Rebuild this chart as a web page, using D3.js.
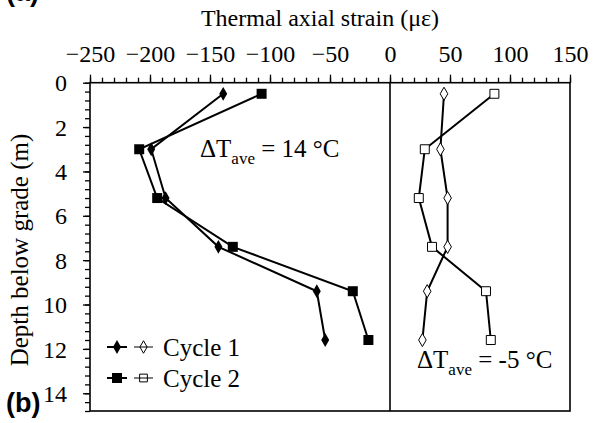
<!DOCTYPE html>
<html>
<head>
<meta charset="utf-8">
<script src="https://cdn.jsdelivr.net/npm/d3@7"></script>
<style>
  body { margin: 0; background: #fff; }
  svg { display: block; }
</style>
</head>
<body>
<div class="chart"></div>
<script>
// depths of the gauges (m)
var depth = [0.5, 3.0, 5.2, 7.4, 9.4, 11.6]
// heating side (left panel)
var heatCycle1 = [-139, -199, -187, -143, -61, -54]
var heatCycle2 = [-107, -209, -194, -131, -31, -18]
// cooling side (right panel)
var coolCycle1 = [45, 42, 48, 48, 31, 27]
var coolCycle2 = [87, 29, 24, 35, 80, 84]

var xTicks = [-250, -200, -150, -100, -50, 0, 50, 100, 150]
var yTicks = [0, 2, 4, 6, 8, 10, 12, 14]

var width = 593, height = 423
var svg = d3.select(".chart").append("svg")
    .attr("width", width)
    .attr("height", height)

var serif = "Liberation Serif"

var xScale = d3.scaleLinear().domain([-250, 150]).range([90, 570])
var yScale = d3.scaleLinear().domain([0, 14.8]).range([82.7, 411])

// minor ticks
svg.append("g")
    .attr("transform", "translate(0," + yScale(0) + ")")
    .call(d3.axisTop(xScale).tickValues(d3.range(-250, 151, 10)).tickSize(5).tickSizeOuter(0).tickFormat(""))
    .call(g => g.select(".domain").remove())
svg.append("g")
    .attr("transform", "translate(" + xScale(-250) + ",0)")
    .call(d3.axisLeft(yScale).tickValues(d3.range(0, 14.81, 0.4)).tickSize(5).tickSizeOuter(0).tickFormat(""))
    .call(g => g.select(".domain").remove())

// major ticks + labels
var xAxis = svg.append("g")
    .attr("transform", "translate(0," + yScale(0) + ")")
    .call(d3.axisTop(xScale).tickValues(xTicks).tickSize(8).tickPadding(13).tickSizeOuter(0))
var yAxis = svg.append("g")
    .attr("transform", "translate(" + xScale(-250) + ",0)")
    .call(d3.axisLeft(yScale).tickValues(yTicks).tickSize(7).tickPadding(16).tickSizeOuter(0))

svg.selectAll(".tick line").attr("stroke", "#000").attr("stroke-width", 1.3)
svg.selectAll(".domain").remove()
svg.selectAll(".tick text")
    .attr("font-family", serif)
    .attr("font-size", 24)
    .attr("fill", "#000")
yAxis.selectAll(".tick text").attr("dy", "0.34em")

// frame and zero line
svg.append("rect")
    .attr("x", xScale(-250)).attr("y", yScale(0))
    .attr("width", xScale(150) - xScale(-250))
    .attr("height", yScale(14.8) - yScale(0))
    .attr("fill", "none").attr("stroke", "#000").attr("stroke-width", 1.6)
svg.append("line")
    .attr("x1", xScale(0)).attr("x2", xScale(0))
    .attr("y1", yScale(0)).attr("y2", yScale(14.8))
    .attr("stroke", "#000").attr("stroke-width", 1.6)

// titles
svg.append("text")
    .attr("x", 320).attr("y", 26)
    .attr("text-anchor", "middle")
    .attr("font-family", serif).attr("font-size", 24)
    .text("Thermal axial strain (\u03bc\u03b5)")
svg.append("text")
    .attr("transform", "translate(28,250) rotate(-90)")
    .attr("text-anchor", "middle")
    .attr("font-family", serif).attr("font-size", 25)
    .text("Depth below grade (m)")

svg.append("text")
    .attr("x", 6).attr("y", 1)
    .attr("font-family", "Liberation Sans")
    .attr("font-weight", "bold").attr("font-size", 27)
    .text("(a)")
svg.append("text")
    .attr("x", 6).attr("y", 412)
    .attr("font-family", "Liberation Sans")
    .attr("font-weight", "bold").attr("font-size", 27)
    .text("(b)")

// series
var line = d3.line()
    .x(function(d) { return xScale(d[0]) })
    .y(function(d) { return yScale(d[1]) })

function pairs(vals) {
    return vals.map(function(v, i) { return [v, depth[i]] })
}

var series = [
    { vals: heatCycle1, shape: d3.symbolDiamond, size: 55, fill: "#000" },
    { vals: heatCycle2, shape: d3.symbolSquare, size: 100, fill: "#000" },
    { vals: coolCycle1, shape: d3.symbolDiamond, size: 50, fill: "#fff" },
    { vals: coolCycle2, shape: d3.symbolSquare, size: 80, fill: "#fff" }
]

series.forEach(function(s) {
    var data = pairs(s.vals)
    svg.append("path")
        .datum(data)
        .attr("d", line)
        .attr("fill", "none")
        .attr("stroke", "#000")
        .attr("stroke-width", 2)
    svg.selectAll(null)
        .data(data)
        .enter()
        .append("path")
        .attr("transform", function(d) { return "translate(" + xScale(d[0]) + "," + yScale(d[1]) + ")" })
        .attr("d", d3.symbol().type(s.shape).size(s.size))
        .attr("fill", s.fill)
        .attr("stroke", "#000")
        .attr("stroke-width", s.fill == "#000" ? 0 : 1)
})

// annotations
function deltaLabel(x, y, val) {
    var t = svg.append("text")
        .attr("x", x).attr("y", y)
        .attr("font-family", serif).attr("font-size", 25)
    t.append("tspan").text("\u0394T")
    t.append("tspan").attr("dy", 7).attr("font-size", 17).text("ave")
    t.append("tspan").attr("dy", -7).text(" = " + val + " \u00b0C")
}
deltaLabel(200, 157, "14")
deltaLabel(417, 368, "-5")

// legend
var legend = [
    { label: "Cycle 1", shape: d3.symbolDiamond, big: 55, small: 45, y: 347 },
    { label: "Cycle 2", shape: d3.symbolSquare, big: 100, small: 60, y: 378 }
]
legend.forEach(function(l) {
    var g = svg.append("g")
    g.append("line").attr("x1", 107).attr("x2", 127).attr("y1", l.y).attr("y2", l.y)
        .attr("stroke", "#000").attr("stroke-width", 2)
    g.append("path").attr("transform", "translate(117," + l.y + ")")
        .attr("d", d3.symbol().type(l.shape).size(l.big)).attr("fill", "#000")
    g.append("line").attr("x1", 134).attr("x2", 153).attr("y1", l.y).attr("y2", l.y)
        .attr("stroke", "#000").attr("stroke-width", 1)
    g.append("path").attr("transform", "translate(143.5," + l.y + ")")
        .attr("d", d3.symbol().type(l.shape).size(l.small)).attr("fill", "none")
        .attr("stroke", "#000").attr("stroke-width", 1)
    g.append("text").attr("x", 163).attr("y", l.y + 9)
        .attr("font-family", serif).attr("font-size", 25)
        .text(l.label)
})
</script>
</body>
</html>
